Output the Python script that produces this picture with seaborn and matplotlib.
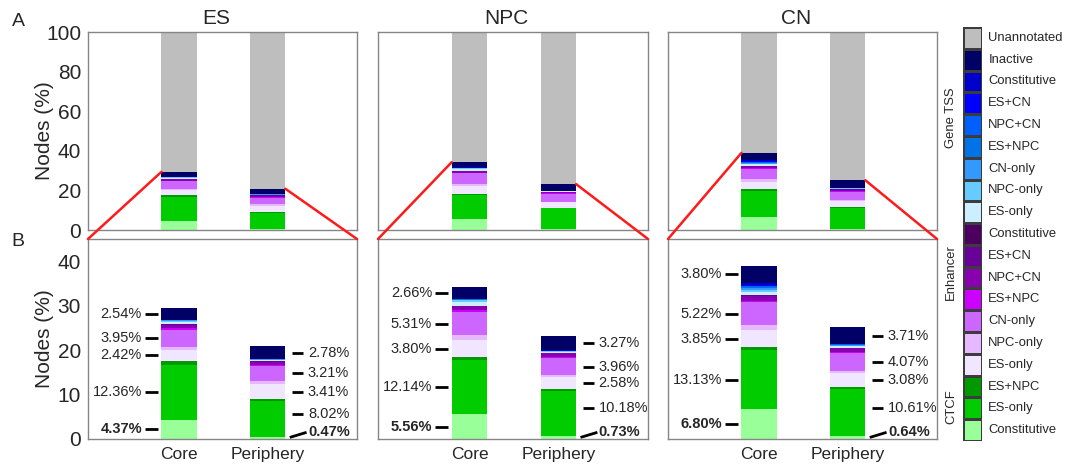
import numpy as np
import pandas as pd
import matplotlib
matplotlib.use("Agg")
import matplotlib.pyplot as plt
from matplotlib.colors import ListedColormap
from matplotlib.patches import ConnectionPatch
from matplotlib.ticker import MultipleLocator, FixedLocator
from matplotlib.transforms import blended_transform_factory
import seaborn as sns

# ---------------------------------------------------------------- data
groups = ["Core", "Periphery"]
cell_types = ["ES", "NPC", "CN"]

# stacking order, bottom to top
layer_names = [
    "CTCF Constitutive", "CTCF ES-only", "CTCF ES+NPC",
    "Enhancer ES-only", "Enhancer NPC-only", "Enhancer CN-only",
    "Enhancer ES+NPC", "Enhancer NPC+CN", "Enhancer ES+CN", "Enhancer Constitutive",
    "TSS ES-only", "TSS NPC-only", "TSS CN-only", "TSS ES+NPC",
    "TSS NPC+CN", "TSS ES+CN", "TSS Constitutive", "TSS Inactive",
]
legend_labels = [
    "Constitutive", "ES-only", "ES+NPC",
    "ES-only", "NPC-only", "CN-only", "ES+NPC", "NPC+CN", "ES+CN", "Constitutive",
    "ES-only", "NPC-only", "CN-only", "ES+NPC", "NPC+CN", "ES+CN", "Constitutive", "Inactive",
    "Unannotated",
]
layer_colors = [
    "#99ff99", "#00cc00", "#009900",
    "#f0e6ff", "#e6b8ff", "#cc66ff", "#cc00ff", "#8800b0", "#6a0099", "#4b0060",
    "#cceeff", "#66ccff", "#3399ff", "#0073e6", "#0060ff", "#0000ff", "#0000cc", "#000066",
    "#bebebe",
]

# node percentages per annotation layer (bottom to top, annotated layers only)
es_core = [4.37, 12.36, 0.90, 2.42, 0.60, 3.95, 0.30, 0.80, 0.10, 0.05,
           0.45, 0.25, 0.12, 0.06, 0.04, 0.03, 0.05, 2.54]
es_periphery = [0.47, 8.02, 0.40, 3.41, 0.85, 3.21, 0.25, 0.75, 0.08, 0.04,
                0.25, 0.15, 0.06, 0.04, 0.03, 0.02, 0.03, 2.78]
npc_core = [5.56, 12.14, 0.70, 3.80, 1.10, 5.31, 0.35, 0.90, 0.12, 0.05,
            0.85, 0.35, 0.15, 0.10, 0.05, 0.03, 0.04, 2.66]
npc_periphery = [0.73, 10.18, 0.40, 2.58, 0.40, 3.96, 0.25, 0.75, 0.08, 0.04,
                 0.25, 0.12, 0.06, 0.04, 0.03, 0.02, 0.03, 3.27]
cn_core = [6.80, 13.13, 0.70, 3.85, 1.10, 5.22, 0.35, 1.10, 0.15, 0.10,
           0.60, 0.45, 0.35, 0.30, 0.25, 0.30, 0.40, 3.80]
cn_periphery = [0.64, 10.61, 0.50, 3.08, 0.40, 4.07, 0.25, 0.85, 0.12, 0.06,
                0.30, 0.15, 0.12, 0.08, 0.06, 0.05, 0.08, 3.71]

panel_data = {
    "ES": (es_core, es_periphery),
    "NPC": (npc_core, npc_periphery),
    "CN": (cn_core, cn_periphery),
}
labelled_layers = [1, 3, 5, 17]

# ---------------------------------------------------------------- style
sns.set_style("white")
plt.rcParams["font.family"] = ["Liberation Sans", "DejaVu Sans"]
plt.rcParams["axes.linewidth"] = 1.0

spine_color = "#858585"
W, H = 1079, 466
fig = plt.figure(figsize=(W / 100, H / 100), dpi=100)


def fig_rect(x0, y0, x1, y1):
    return [x0 / W, 1 - y1 / H, (x1 - x0) / W, (y1 - y0) / H]


col_px = [(88, 357), (378, 648), (668, 937)]
XLIM = (-1.03, 2.01)
BAR_W = 0.4


def style_axes(ax):
    for s in ax.spines.values():
        s.set_color(spine_color)
        s.set_linewidth(1.0)
    ax.set_xlim(*XLIM)
    ax.xaxis.set_major_locator(FixedLocator([0, 1]))
    ax.xaxis.set_minor_locator(MultipleLocator(0.4))
    ax.xaxis.remove_overlapping_locs = False
    ax.tick_params(axis="x", which="major", length=0)
    ax.tick_params(axis="x", which="minor", length=3, direction="out",
                   color=spine_color, width=1)
    ax.tick_params(axis="y", which="both", direction="out", color=spine_color,
                   width=1, labelsize=15, pad=1)
    ax.tick_params(axis="y", which="major", length=4)
    ax.tick_params(axis="y", which="minor", length=3)
    ax.set_xlabel("")
    ax.set_ylabel("")


def stacked(ax, values, n_layers):
    table = pd.DataFrame({g: np.cumsum(v) for g, v in zip(groups, values)})
    for i in range(n_layers - 1, -1, -1):
        sns.barplot(x=groups, y=table.iloc[i].values, color=layer_colors[i],
                    saturation=1, width=BAR_W, linewidth=0, errorbar=None, ax=ax)


for c, ct in enumerate(cell_types):
    core_vals, peri_vals = panel_data[ct]
    core_full = list(core_vals) + [100 - sum(core_vals)]
    peri_full = list(peri_vals) + [100 - sum(peri_vals)]

    x0, x1 = col_px[c]
    ax_top = fig.add_axes(fig_rect(x0, 32, x1, 230))
    ax_bot = fig.add_axes(fig_rect(x0, 239, x1, 439))

    # overview panel: every layer up to 100 %
    stacked(ax_top, [core_full, peri_full], len(core_full))
    style_axes(ax_top)
    ax_top.set_ylim(0, 100)
    ax_top.set_yticks([0, 20, 40, 60, 80, 100])
    ax_top.set_xticklabels([])

    # zoomed panel: annotated layers only
    stacked(ax_bot, [core_vals, peri_vals], len(core_vals))
    style_axes(ax_bot)
    ax_bot.set_ylim(0, 45)
    ax_bot.set_yticks([0, 10, 20, 30, 40])
    ax_bot.yaxis.set_minor_locator(MultipleLocator(5))
    ax_bot.set_xticks([0, 1])
    ax_bot.set_xticklabels(groups, fontsize=12.5)
    ax_bot.tick_params(axis="x", which="major", pad=6)

    if c > 0:
        ax_top.set_yticklabels([])
        ax_bot.set_yticklabels([])

    fig.text((x0 + x1) / 2 / W - 0.006, 1 - 18 / H, ct, fontsize=15,
             ha="center", va="center")

    # red guide lines between the overview and the zoomed panel
    for xa, ya, xb in [(-BAR_W / 2, sum(core_vals), 0.0),
                       (1 + BAR_W / 2, sum(peri_vals), 1.0)]:
        con = ConnectionPatch(xyA=(xa, ya), coordsA=ax_top.transData,
                              xyB=(xb, 1.0), coordsB=ax_bot.transAxes,
                              color="#ff1a1a", lw=1.8, zorder=10)
        fig.add_artist(con)

    # value labels
    for side, vals in (("Core", core_vals), ("Periphery", peri_vals)):
        cum = np.cumsum(vals)
        starts = cum - np.asarray(vals)
        for idx in labelled_layers:
            yc = starts[idx] + vals[idx] / 2
            if side == "Periphery" and idx == 1:
                yc += 1.1
            txt = f"{vals[idx]:.2f}%"
            if side == "Core":
                ax_bot.plot([-0.385, -0.24], [yc, yc], color="black", lw=2,
                            solid_capstyle="butt", clip_on=False)
                ax_bot.text(-0.42, yc, txt, ha="right", va="center", fontsize=10.5)
            else:
                ax_bot.plot([1.275, 1.40], [yc, yc], color="black", lw=2,
                            solid_capstyle="butt", clip_on=False)
                ax_bot.text(1.455, yc, txt, ha="left", va="center", fontsize=10.5)
        base = f"{vals[0]:.2f}%"
        if side == "Core":
            yc = vals[0] / 2
            ax_bot.plot([-0.385, -0.24], [yc, yc], color="black", lw=2,
                        solid_capstyle="butt", clip_on=False)
            ax_bot.text(-0.42, yc, base, ha="right", va="center", fontsize=10.5,
                        fontweight="bold")
        else:
            ax_bot.plot([1.25, 1.44], [0.35, 1.5], color="black", lw=2,
                        solid_capstyle="butt", clip_on=False)
            ax_bot.text(1.455, 1.6, base, ha="left", va="center", fontsize=10.5,
                        fontweight="bold")

fig.text(45 / W, 1 - 131 / H, "Nodes (%)", rotation=90, fontsize=15,
         ha="center", va="center")
fig.text(45 / W, 1 - 339 / H, "Nodes (%)", rotation=90, fontsize=15,
         ha="center", va="center")
fig.text(18 / W, 1 - 21 / H, "A", fontsize=14, ha="center", va="center")
fig.text(18 / W, 1 - 242 / H, "B", fontsize=14, ha="center", va="center")

# ---------------------------------------------------------------- key
lax = fig.add_axes(fig_rect(963, 27, 982, 441))
key_colors = layer_colors[::-1]
key_labels = legend_labels[::-1]
n_keys = len(key_colors)
sns.heatmap(np.arange(n_keys).reshape(-1, 1), cmap=ListedColormap(key_colors),
            vmin=-0.5, vmax=n_keys - 0.5, cbar=False, linewidths=0.8,
            linecolor="#3c3c3c", xticklabels=False, yticklabels=False, ax=lax)
lax.tick_params(length=0)
trans = blended_transform_factory(lax.transAxes, lax.transData)
for i, lab in enumerate(key_labels):
    lax.text(1.33, i + 0.5, lab, transform=trans, ha="left", va="center",
             fontsize=9.4)

fig.text(951 / W, 1 - 118 / H, "Gene TSS", rotation=90, fontsize=9.4,
         ha="center", va="center")
fig.text(951 / W, 1 - 272 / H, "Enhancer", rotation=90, fontsize=9.4,
         ha="center", va="center")
fig.text(951 / W, 1 - 407 / H, "CTCF", rotation=90, fontsize=9.4,
         ha="center", va="center")

fig.savefig("out.png", dpi=100)
